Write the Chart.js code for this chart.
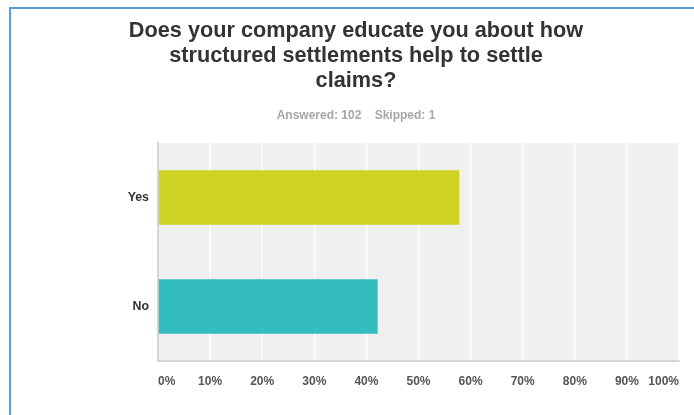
<!DOCTYPE html>
<html>
<head>
<meta charset="utf-8">
<script src="https://cdn.jsdelivr.net/npm/chart.js@4.4.1/dist/chart.umd.min.js"></script>
<style>
  html, body { margin: 0; padding: 0; background: #ffffff; }
  #wrap { position: relative; width: 694px; height: 415px; overflow: hidden; }
  #chart { position: absolute; left: 0; top: 0; }
  #frame {
    position: absolute; left: 9px; top: 7px; width: 800px; height: 500px;
    border-left: 2px solid #5b9bd5; border-top: 2px solid #5b9bd5;
    pointer-events: none; box-sizing: border-box;
  }
</style>
</head>
<body>
<div id="wrap">
  <canvas id="chart" width="694" height="415"></canvas>
  <div id="frame"></div>
</div>
<script>
// Survey question and response summary
const questionLines = [
  'Does your company educate you about how',
  'structured settlements help to settle',
  'claims?'
];
const answered = 102;
const skipped = 1;

// Answer choices and share of respondents (%)
const categories = ['Yes', 'No'];
const percentages = [57.84, 42.16];
const barColors = ['#cfd424', '#33bdbf'];

// Horizontal axis ticks
const tickValues = [0, 10, 20, 30, 40, 50, 60, 70, 80, 90, 100];
const tickLabels = tickValues.map(v => v + '%');

// Light grey plotting area behind the bars
const plotBackground = {
  id: 'plotBackground',
  beforeDraw(chart) {
    const { ctx, chartArea: a } = chart;
    ctx.save();
    ctx.fillStyle = '#f0f0f0';
    ctx.fillRect(a.left, a.top, a.right - a.left, a.bottom - a.top);
    ctx.restore();
  }
};

const FONT = "'Liberation Sans', Arial, Helvetica, sans-serif";

new Chart(document.getElementById('chart'), {
  type: 'bar',
  data: {
    labels: categories,
    datasets: [{
      data: percentages,
      backgroundColor: barColors,
      borderWidth: 0,
      barPercentage: 0.5,
      categoryPercentage: 1.0
    }]
  },
  options: {
    indexAxis: 'y',
    responsive: false,
    animation: false,
    events: [],
    layout: { padding: { left: 33, right: 15, top: 0, bottom: 0 } },
    plugins: {
      legend: { display: false },
      tooltip: { enabled: false },
      title: {
        display: true,
        text: questionLines,
        color: '#333333',
        font: { family: FONT, size: 21.7, weight: 'bold', lineHeight: 25 / 21.7 },
        padding: { top: 18.5, bottom: 0 }
      },
      subtitle: {
        display: true,
        text: 'Answered: ' + answered + '    Skipped: ' + skipped,
        color: '#a6a6a6',
        font: { family: FONT, size: 12, weight: 'bold', lineHeight: 14 / 12 },
        padding: { top: 15, bottom: 20.5 }
      }
    },
    scales: {
      x: {
        type: 'linear',
        min: 0,
        max: 100,
        afterBuildTicks(scale) {
          scale.ticks = tickValues.map(v => ({ value: v }));
        },
        afterFit(scale) { scale.height = 54; },
        grid: { color: '#ffffff', lineWidth: 1.5, drawTicks: false },
        border: { display: true, color: '#d6d6d6', width: 2 },
        ticks: {
          align: 'inner',
          padding: 13.5,
          color: '#555555',
          font: { family: FONT, size: 12, weight: 'bold' },
          callback: (value, index) => tickLabels[index]
        }
      },
      y: {
        afterFit(scale) { scale.width = 125; },
        grid: { display: false, drawTicks: false },
        border: { display: true, color: '#d6d6d6', width: 2 },
        ticks: {
          padding: 9,
          color: '#333333',
          font: { family: FONT, size: 12.4, weight: 'bold' }
        }
      }
    }
  },
  plugins: [plotBackground]
});
</script>
</body>
</html>
